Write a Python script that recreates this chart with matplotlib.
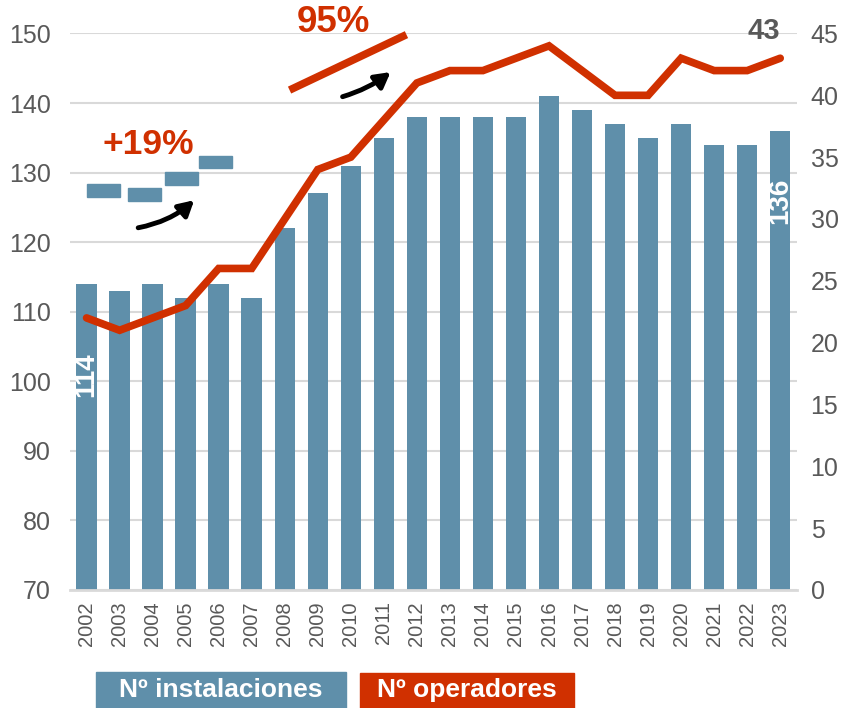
import numpy as np
import matplotlib
matplotlib.use("Agg")
import matplotlib.pyplot as plt
from matplotlib.patches import Rectangle

plt.rcParams["font.family"] = ["Liberation Sans", "DejaVu Sans"]

# ── Data ──────────────────────────────────────────────────────────────────────
years = [str(y) for y in range(2002, 2024)]
instalaciones = [114, 113, 114, 112, 114, 112, 122, 127, 131, 135, 138,
                 138, 138, 138, 141, 139, 137, 135, 137, 134, 134, 136]
operadores = [22, 21, 22, 23, 26, 26, 30, 34, 35, 38, 41,
              42, 42, 43, 44, 42, 40, 40, 43, 42, 42, 43]

left_ticks = list(range(70, 151, 10))
right_ticks = list(range(0, 46, 5))

BLUE = "#5f8faa"
RED = "#d03000"
GREY = "#595959"
GRID = "#d9d9d9"

# ── Figure ────────────────────────────────────────────────────────────────────
fig = plt.figure(figsize=(8.44, 7.08), dpi=100)
ax = fig.add_axes([0.083, 0.1667, 0.861, 0.786])
x = np.arange(len(years))

ax.bar(x, instalaciones, width=0.62, color=BLUE, zorder=2)
ax.set_ylim(70, 150)
ax.set_xlim(-0.5, len(years) - 0.5)
ax.set_yticks(left_ticks)
ax.grid(axis="y", color=GRID, linewidth=1.5, zorder=0)
ax.set_axisbelow(True)
for s in ["top", "left", "right"]:
    ax.spines[s].set_visible(False)
ax.spines["bottom"].set_color(GRID)
ax.spines["bottom"].set_linewidth(2)
ax.set_xticks(x)
ax.set_xticklabels(years, rotation=90, fontsize=14.5, color=GREY)
ax.tick_params(axis="both", length=0)
ax.tick_params(axis="x", pad=8)
ax.tick_params(axis="y", labelsize=18, labelcolor=GREY, pad=14)

ax2 = ax.twinx()
ax2.plot(x, operadores, color=RED, linewidth=5.5, solid_capstyle="round",
         solid_joinstyle="miter", zorder=3)
ax2.set_ylim(0, 45)
ax2.set_yticks(right_ticks)
ax2.tick_params(axis="y", length=0, labelsize=18, labelcolor=GREY, pad=10)
for s in ax2.spines.values():
    s.set_visible(False)

# values written inside first and last bar
ax.text(x[0], 100.9, str(instalaciones[0]), rotation=90, ha="center",
        va="center", color="white", fontsize=20, fontweight="bold", zorder=4)
ax.text(x[-1], 126, str(instalaciones[-1]), rotation=90, ha="center",
        va="center", color="white", fontsize=20, fontweight="bold", zorder=4)
ax2.text(x[-1] - 0.5, operadores[-1] + 1.1, str(operadores[-1]), ha="center",
         va="bottom", color=GREY, fontsize=21, fontweight="bold")

# +19% callout: small steps and curved arrow
steps = [(0.0, 126.5), (1.24, 125.9), (2.36, 128.2), (3.41, 130.6)]
for sx, sy in steps:
    ax.add_patch(Rectangle((sx, sy), 1.0, 1.85, color=BLUE, zorder=4,
                           clip_on=False))
ax.text(1.87, 134.0, "+19%", ha="center", va="center", color=RED,
        fontsize=25.5, fontweight="bold", zorder=5)
ax.annotate("", xy=(3.32, 126.3), xytext=(1.48, 122.0),
            arrowprops=dict(arrowstyle="-|>,head_length=0.9,head_width=0.5",
                            color="black", lw=3.5,
                            connectionstyle="arc3,rad=0.15"), zorder=5)

# 95% callout
ax.plot([6.25, 9.58], [142.1, 149.6], color=RED, linewidth=5.5,
        clip_on=False, zorder=5)
ax.text(7.46, 151.6, "95%", ha="center", va="center", color=RED,
        fontsize=26.5, fontweight="bold", clip_on=False)
ax.annotate("", xy=(9.27, 144.7), xytext=(7.67, 140.8),
            arrowprops=dict(arrowstyle="-|>,head_length=0.9,head_width=0.5",
                            color="black", lw=3.5,
                            connectionstyle="arc3,rad=0.1"), zorder=5)

# legend boxes under the chart
fig.patches.append(Rectangle((0.1137, 0.0), 0.2963, 0.051, color=BLUE,
                             transform=fig.transFigure, figure=fig))
fig.patches.append(Rectangle((0.4265, 0.0), 0.2535, 0.050, color=RED,
                             transform=fig.transFigure, figure=fig))
fig.text(0.2619, 0.025, "Nº instalaciones", ha="center", va="center",
         color="white", fontsize=19, fontweight="bold")
fig.text(0.5533, 0.025, "Nº operadores", ha="center", va="center",
         color="white", fontsize=19, fontweight="bold")

fig.savefig("out.png", dpi=100)
